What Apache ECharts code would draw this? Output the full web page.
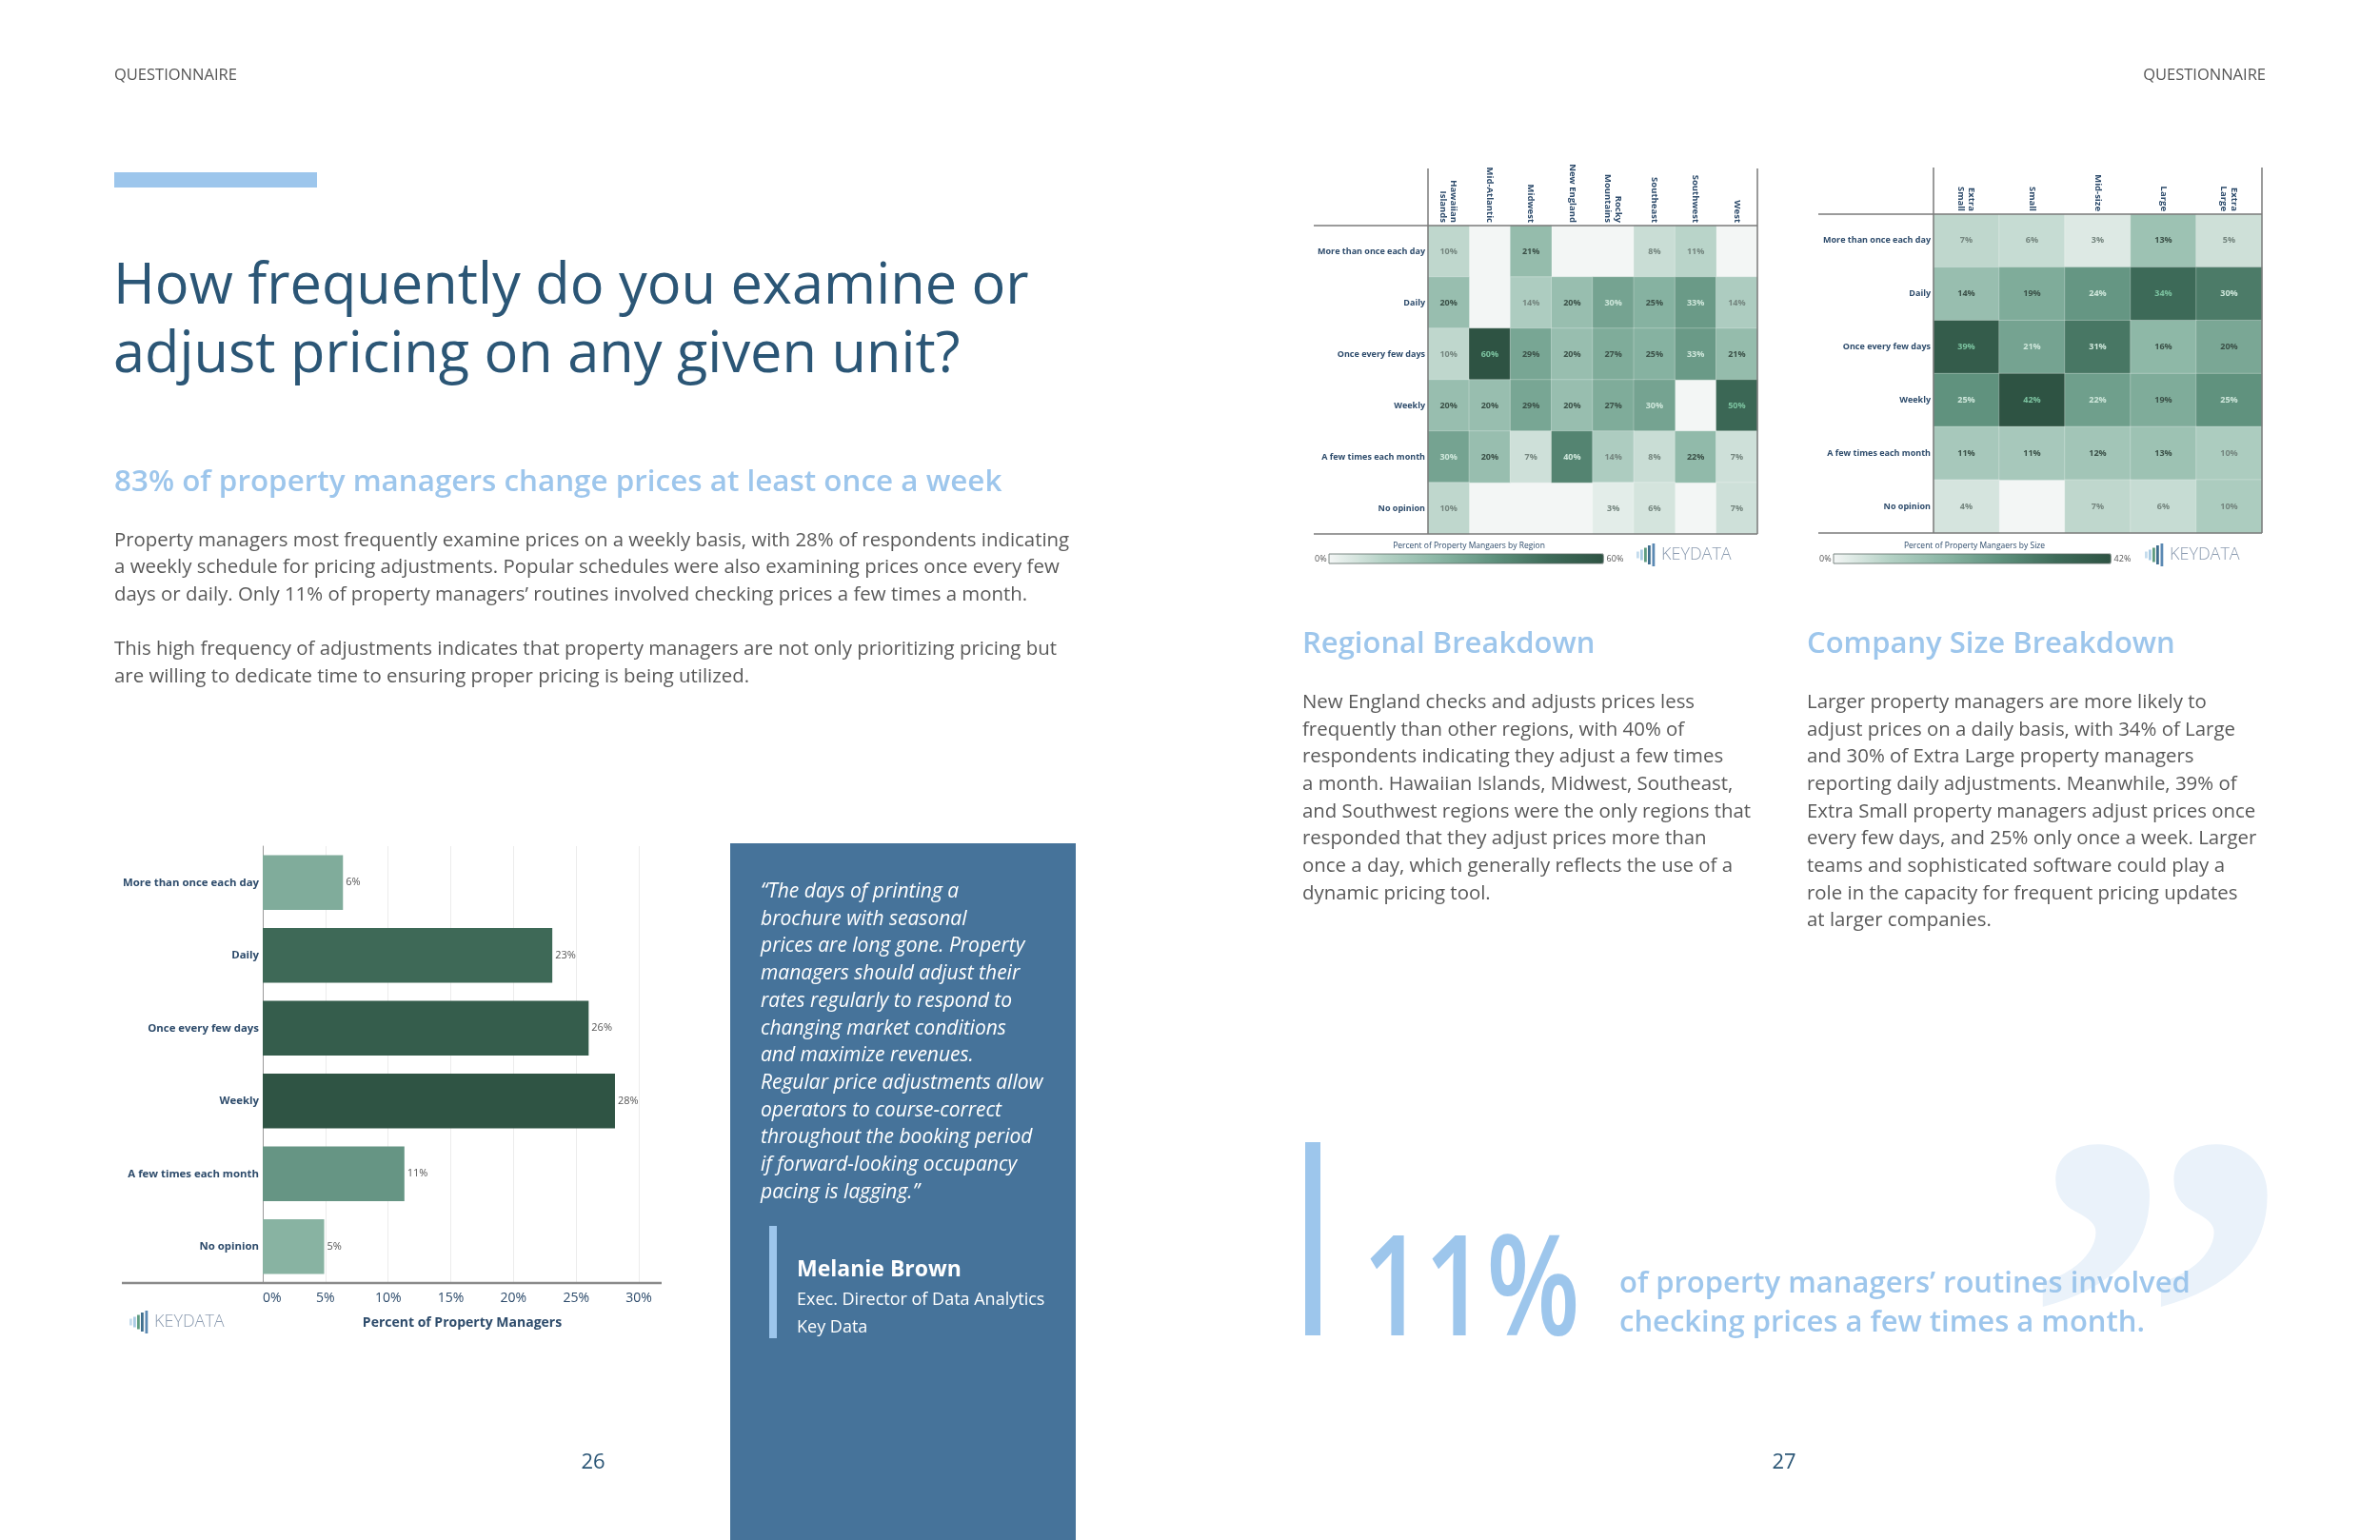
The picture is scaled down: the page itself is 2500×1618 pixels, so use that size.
<!DOCTYPE html>
<html>
<head>
<meta charset="utf-8">
<title>How frequently do you examine or adjust pricing</title>
<script src="https://cdn.jsdelivr.net/npm/echarts@6.0.0/dist/echarts.min.js"></script>
<style>
  html, body { margin: 0; padding: 0; background: #fff; }
  #page { width: 2500px; height: 1618px; }
</style>
</head>
<body>
<div id="page"></div>
<script>
var freqLabels = ['More than once each day', 'Daily', 'Once every few days', 'Weekly', 'A few times each month', 'No opinion'];
var overallValues = [6.4, 23.1, 26.0, 28.1, 11.3, 4.9];
var xTickStep = 5;
var xTickMax = 30;

var regionNames = ['Hawaiian\nIslands', 'Mid-Atlantic', 'Midwest', 'New England', 'Rocky\nMountains', 'Southeast', 'Southwest', 'West'];
// rows follow freqLabels, columns follow regionNames (null = no answer)
var regionValues = [
    [10, null, 21, null, null, 8, 11, null],
    [20, null, 14, 20, 30, 25, 33, 14],
    [10, 60, 29, 20, 27, 25, 33, 21],
    [20, 20, 29, 20, 27, 30, null, 50],
    [30, 20, 7, 40, 14, 8, 22, 7],
    [10, null, null, null, 3, 6, null, 7]
];

var sizeNames = ['Extra\nSmall', 'Small', 'Mid-size', 'Large', 'Extra\nLarge'];
var sizeValues = [
    [7, 6, 3, 13, 5],
    [14, 19, 24, 34, 30],
    [39, 21, 31, 16, 20],
    [25, 42, 22, 19, 25],
    [11, 11, 12, 13, 10],
    [4, null, 7, 6, 10]
];

// ---- colours ----
var heatColors = ['#f3f6f5', '#b4d1c5', '#8ab5a4', '#5f917d', '#3e6b59', '#2e5343'];
var barColors = ['#88b3a2', '#689886', '#527f6e', '#406c5a', '#2f5444'];
var navy = '#2d4b6b';
var titleBlue = '#2b5676';
var lightBlue = '#9dc6ec';
var bodyGrey = '#595959';
var font = "'Open Sans', sans-serif";

// ---- layout (page pixels) ----
var barGrid = {left: 276, top: 889, width: 395, height: 459};
var regGrid = {left: 1500, top: 237, width: 346, height: 324};
var sizeGrid = {left: 2031, top: 225, width: 345, height: 335};

function maxOf(rows) {
    var m = 0;
    rows.forEach(function (r) { r.forEach(function (v) { if (v != null && v > m) m = v; }); });
    return m;
}
var regionMax = maxOf(regionValues);
var sizeMax = maxOf(sizeValues);

function cellTextColor(v, max) {
    var r = v / max;
    if (r >= 0.8) return '#7cc3a0';
    if (r >= 0.5) return '#cfe7db';
    if (r >= 0.25) return '#3b5047';
    return '#74857e';
}

function cells(rows, max) {
    var out = [];
    rows.forEach(function (row, y) {
        row.forEach(function (v, x) {
            if (v == null) return;
            out.push({value: [x, y, v], label: {color: cellTextColor(v, max)}});
        });
    });
    return out;
}

var barMin = Math.min.apply(null, overallValues);
var barMax = Math.max.apply(null, overallValues);
var barData = overallValues.map(function (v) {
    return {value: v, itemStyle: {color: echarts.color.lerp((v - barMin) / (barMax - barMin), barColors)}};
});

// ---- helpers for page graphics ----
function txt(x, y, s, o) {
    o = o || {};
    var al = o.align || 'left', va = o.va || 'middle';
    var el = {
        type: 'text', x: x, y: y, z: o.z || 10, silent: true,
        style: {
            text: s, fill: o.color || bodyGrey,
            fontSize: o.size || 20.4, fontFamily: o.family || font,
            fontWeight: o.weight || 'normal', fontStyle: o.style || 'normal',
            lineHeight: o.lh, align: al, textAlign: al, verticalAlign: va, textVerticalAlign: va
        }
    };
    if (o.sx) el.scaleX = o.sx;
    return el;
}
function rect(x, y, w, h, fill, z) {
    return {type: 'rect', silent: true, z: z || 5, shape: {x: x, y: y, width: w, height: h}, style: {fill: fill}};
}
function line(x1, y1, x2, y2, color, w) {
    return {type: 'line', silent: true, z: 10, shape: {x1: x1, y1: y1, x2: x2, y2: y2}, style: {stroke: color, lineWidth: w}};
}
function frame(g, x0, yTop) {
    var r = g.left + g.width, b = g.top + g.height, c = '#7a7a7a';
    return [
        line(x0, g.top, r, g.top, c, 1.5),
        line(x0, b, r, b, c, 1.5),
        line(g.left, yTop, g.left, b, c, 1.5),
        line(r, yTop, r, b, c, 1.5)
    ];
}
function logo(x, y) {
    var bars = [[0, 7, '#c5dced'], [4, 11, '#a9cbe4'], [8, 15, '#5e9c80'], [12, 20, '#3f6e8e'], [16.5, 24, '#5b89b3']];
    var els = bars.map(function (b) { return rect(x + b[0], y - b[1] / 2, 2.8, b[1], b[2], 10); });
    els.push(txt(x + 26, y, 'KEYDATA', {size: 18, weight: 300, color: '#8b9bb0'}));
    return els;
}
function legendBox(x, y, w, title, cx) {
    return [
        {type: 'rect', silent: true, z: 20, shape: {x: x, y: y, width: w, height: 10}, style: {fill: 'none', stroke: '#5a6a64', lineWidth: 0.8}},
        txt(cx, y - 8, title, {align: 'center', size: 8.5, color: navy})
    ];
}

var quoteLines = [
    '\u201CThe days of printing a',
    'brochure with seasonal',
    'prices are long gone. Property',
    'managers should adjust their',
    'rates regularly to respond to',
    'changing market conditions',
    'and maximize revenues.',
    'Regular price adjustments allow',
    'operators to course-correct',
    'throughout the booking period',
    'if forward-looking occupancy',
    'pacing is lagging.\u201D'
];

var elements = [].concat(
    [
        txt(120, 79.7, 'QUESTIONNAIRE', {size: 16.5, color: '#555'}),
        txt(2380, 79.7, 'QUESTIONNAIRE', {size: 16.5, color: '#555', align: 'right'}),
        rect(120, 181, 213, 16, lightBlue),
        txt(119, 266, 'How frequently do you examine or\nadjust pricing on any given unit?', {size: 59.5, weight: 'normal', color: titleBlue, lh: 72, va: 'top'}),
        txt(120, 507, '83% of property managers change prices at least once a week', {size: 31.4, weight: 600, color: lightBlue}),
        txt(120, 553.5, 'Property managers most frequently examine prices on a weekly basis, with 28% of respondents indicating\na weekly schedule for pricing adjustments. Popular schedules were also examining prices once every few\ndays or daily. Only 11% of property managers\u2019 routines involved checking prices a few times a month.', {lh: 28.7, va: 'top'}),
        txt(120, 668.3, 'This high frequency of adjustments indicates that property managers are not only prioritizing pricing but\nare willing to dedicate time to ensuring proper pricing is being utilized.', {lh: 28.7, va: 'top'}),
        // quote panel
        rect(767, 886, 363, 732, '#46739a', 1),
        txt(799, 922.7, quoteLines.join('\n'), {size: 21, style: 'italic', color: '#ffffff', lh: 28.7, va: 'top'}),
        rect(808, 1288, 8, 118, lightBlue),
        txt(837, 1334, 'Melanie Brown', {size: 23, weight: 'bold', color: '#ffffff'}),
        txt(837, 1366, 'Exec. Director of Data Analytics', {size: 18, color: '#ffffff'}),
        txt(837, 1395, 'Key Data', {size: 18, color: '#ffffff'}),
        line(128, barGrid.top + barGrid.height, 695, barGrid.top + barGrid.height, '#8a8a8a', 2.5),
        txt(623, 1537, '26', {size: 22, color: titleBlue, align: 'center'}),
        txt(1874, 1537, '27', {size: 22, color: titleBlue, align: 'center'}),
        // right page text
        txt(1368, 677.5, 'Regional Breakdown', {size: 31, weight: 600, color: lightBlue}),
        txt(1898, 677.5, 'Company Size Breakdown', {size: 31, weight: 600, color: lightBlue}),
        txt(1368, 723.7, 'New England checks and adjusts prices less\nfrequently than other regions, with 40% of\nrespondents indicating they adjust a few times\na month. Hawaiian Islands, Midwest, Southeast,\nand Southwest regions were the only regions that\nresponded that they adjust prices more than\nonce a day, which generally reflects the use of a\ndynamic pricing tool.', {lh: 28.7, va: 'top'}),
        txt(1898, 723.7, 'Larger property managers are more likely to\nadjust prices on a daily basis, with 34% of Large\nand 30% of Extra Large property managers\nreporting daily adjustments. Meanwhile, 39% of\nExtra Small property managers adjust prices once\nevery few days, and 25% only once a week. Larger\nteams and sophisticated software could play a\nrole in the capacity for frequent pricing updates\nat larger companies.', {lh: 28.7, va: 'top'}),
        // call-out
        txt(2407, 1432, '\u201D', {size: 565, weight: 'bold', family: "'Liberation Serif', serif", color: '#eaf2fa', align: 'right', z: 1}),
        rect(1371, 1200, 16, 203, lightBlue),
        txt(1431, 1361, '11%', {size: 146, weight: 600, color: lightBlue, sx: 0.78}),
        txt(1701, 1349, 'of property managers\u2019 routines involved', {size: 31, weight: 600, color: lightBlue}),
        txt(1701, 1390, 'checking prices a few times a month.', {size: 31, weight: 600, color: lightBlue})
    ],
    frame(regGrid, 1380, 177),
    frame(sizeGrid, 1910, 176),
    legendBox(1396, 582, 288, 'Percent of Property Mangaers by Region', 1543),
    legendBox(1926, 582, 291, 'Percent of Property Mangaers by Size', 2074),
    logo(136, 1389),
    logo(1719, 583),
    logo(2253, 583)
);

function heatX(grid, names) {
    return {
        gridIndex: grid, type: 'category', position: 'top', data: names,
        axisLine: {show: false}, axisTick: {show: false}, splitLine: {show: false},
        axisLabel: {rotate: 90, interval: 0, fontSize: 9.5, fontWeight: 'bold', color: navy, margin: 3, lineHeight: 11, fontFamily: font}
    };
}
function heatY(grid) {
    return {
        gridIndex: grid, type: 'category', data: freqLabels, inverse: true,
        axisLine: {show: false}, axisTick: {show: false}, splitLine: {show: false},
        axisLabel: {fontSize: 9, fontWeight: 'bold', color: navy, margin: 3, fontFamily: font}
    };
}
function heatSeries(idx, rows, max) {
    return {
        type: 'heatmap', xAxisIndex: idx, yAxisIndex: idx, data: cells(rows, max),
        itemStyle: {borderColor: 'rgba(255,255,255,0.25)', borderWidth: 1},
        label: {show: true, fontSize: 9, fontWeight: 'bold', fontFamily: font, formatter: function (p) { return p.value[2] + '%'; }},
        emphasis: {disabled: true}
    };
}
function heatLegend(series, max, left, len) {
    return {
        type: 'continuous', seriesIndex: series, min: 0, max: max,
        orient: 'horizontal', left: left, top: 582, padding: 0,
        itemWidth: 10, itemHeight: len,
        text: [max + '%', '0%'], textGap: 3, calculable: false, hoverLink: false,
        inRange: {color: heatColors},
        textStyle: {fontSize: 9, color: '#555', fontFamily: font}
    };
}

var myChart = echarts.init(document.getElementById('page'), null, {renderer: 'canvas'});

var option = {
    animation: false,
    textStyle: {fontFamily: font},
    grid: [
        barGrid,
        Object.assign({show: true, backgroundColor: heatColors[0], borderWidth: 0}, regGrid),
        Object.assign({show: true, backgroundColor: heatColors[0], borderWidth: 0}, sizeGrid)
    ],
    xAxis: [
        {
            gridIndex: 0, type: 'value', min: 0, max: xTickMax, interval: xTickStep,
            axisLine: {show: false}, axisTick: {show: false},
            splitLine: {lineStyle: {color: '#ececec'}},
            axisLabel: {formatter: '{value}%', color: navy, fontSize: 14, margin: 9, alignMinLabel: 'left'},
            name: 'Percent of Property Managers', nameLocation: 'middle', nameGap: 35,
            nameTextStyle: {color: navy, fontSize: 14, fontWeight: 'bold', padding: [0, 0, 0, 24]}
        },
        heatX(1, regionNames),
        heatX(2, sizeNames)
    ],
    yAxis: [
        {
            gridIndex: 0, type: 'category', data: freqLabels, inverse: true,
            axisLine: {show: true, lineStyle: {color: '#9a9a9a'}}, axisTick: {show: false},
            axisLabel: {color: navy, fontSize: 11.4, fontWeight: 'bold', margin: 4}
        },
        heatY(1),
        heatY(2)
    ],
    visualMap: [
        heatLegend(1, regionMax, 1381, 288),
        heatLegend(2, sizeMax, 1911, 291)
    ],
    series: [
        {
            type: 'bar', xAxisIndex: 0, yAxisIndex: 0, data: barData,
            barCategoryGap: '25%',
            label: {show: true, position: 'right', distance: 3, fontSize: 11, color: '#555',
                formatter: function (p) { return Math.round(p.value) + '%'; }},
            emphasis: {disabled: true}
        },
        heatSeries(1, regionValues, regionMax),
        heatSeries(2, sizeValues, sizeMax)
    ],
    graphic: {elements: elements}
};

myChart.setOption(option);
</script>
</body>
</html>
